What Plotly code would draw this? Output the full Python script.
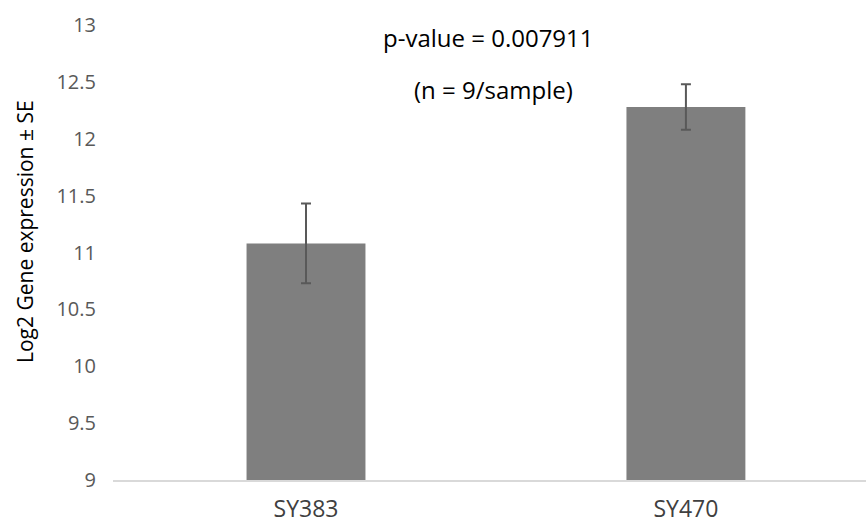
import plotly.graph_objects as go

samples = ["SY383", "SY470"]
mean_expr = [11.08, 12.28]
se_expr = [0.35, 0.20]
y_ticks = [9, 9.5, 10, 10.5, 11, 11.5, 12, 12.5, 13]
y_tick_text = ["9", "9.5", "10", "10.5", "11", "11.5", "12", "12.5", "13"]

FONT = "Open Sans"

fig = go.Figure(
    go.Bar(
        x=samples,
        y=mean_expr,
        width=0.313,
        marker=dict(color="#7f7f7f", line=dict(width=0)),
        error_y=dict(type="data", array=se_expr, visible=True,
                     color="#595959", thickness=2, width=5),
    )
)

fig.update_layout(
    width=866,
    height=524,
    margin=dict(l=113, r=0, t=25, b=44),
    paper_bgcolor="white",
    plot_bgcolor="white",
    showlegend=False,
    font=dict(family=FONT),
    xaxis=dict(
        range=[-0.508, 1.474],
        automargin=False,
        showgrid=False,
        zeroline=False,
        showline=True,
        linecolor="#d9d9d9",
        linewidth=2,
        ticks="",
        tickfont=dict(size=23, color="#404040", family=FONT),
        ticklabelstandoff=7,
    ),
    yaxis=dict(
        range=[9, 13],
        automargin=False,
        tickvals=y_ticks,
        ticktext=y_tick_text,
        showgrid=False,
        zeroline=False,
        showline=False,
        ticks="",
        tickfont=dict(size=20, color="#595959", family=FONT),
        ticklabelstandoff=16,
    ),
    annotations=[
        dict(text="Log2 Gene expression ± SE", textangle=-90,
             xref="paper", yref="paper", x=-0.117, y=0.547,
             xanchor="center", yanchor="middle", showarrow=False,
             font=dict(size=21, color="#000000", family=FONT)),
        dict(text="p-value = 0.007911", xref="paper", yref="y",
             x=0.499, y=12.89, xanchor="center", yanchor="middle",
             showarrow=False, font=dict(size=24, color="#000000", family=FONT)),
        dict(text="(n = 9/sample)", xref="paper", yref="y",
             x=0.505, y=12.43, xanchor="center", yanchor="middle",
             showarrow=False, font=dict(size=24, color="#000000", family=FONT)),
    ],
)

fig.write_html("out.html")
